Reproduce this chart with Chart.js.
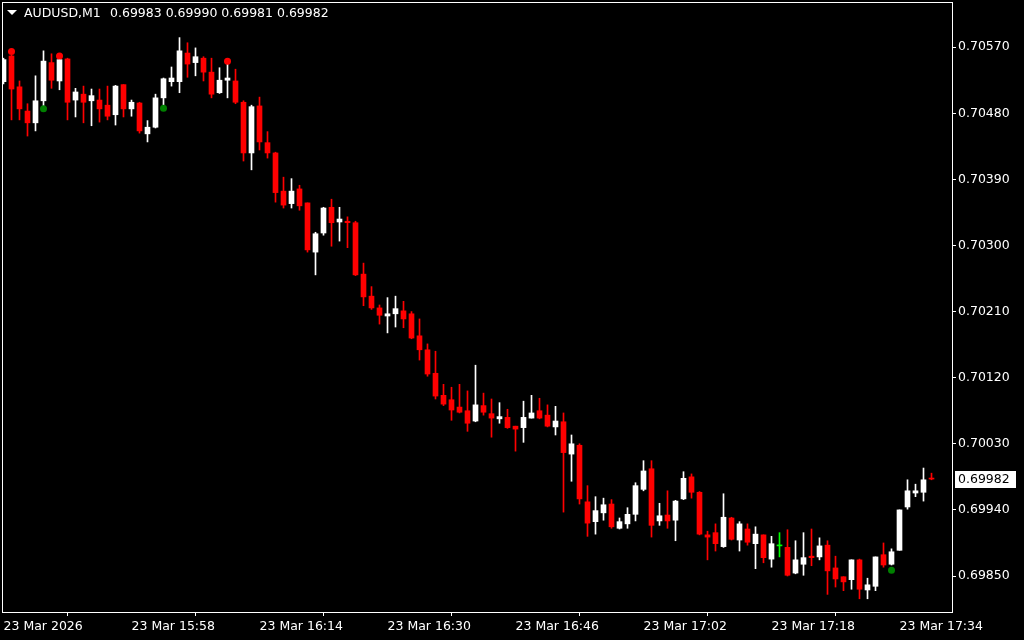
<!DOCTYPE html>
<html>
<head>
<meta charset="utf-8">
<script src="https://cdn.jsdelivr.net/npm/chart.js@4.4.0/dist/chart.umd.min.js"></script>
<style>
html,body{margin:0;padding:0;background:#000;overflow:hidden}
canvas{display:block}
</style>
</head>
<body>
<canvas id="c" width="1024" height="640"></canvas>
<script>
const symbolName = 'AUDUSD,M1';
const timeLabels = ['23 Mar 2026','23 Mar 15:58','23 Mar 16:14','23 Mar 16:30','23 Mar 16:46','23 Mar 17:02','23 Mar 17:18','23 Mar 17:34'];
const timeLabelIdx = [0,16,32,48,64,80,96,112];
const priceTicks = [0.69850,0.69940,0.70030,0.70120,0.70210,0.70300,0.70390,0.70480,0.70570];

const opens = [0.70523,0.70558,0.70516,0.70483,0.70467,0.70497,0.70549,0.70524,0.70554,0.70498,
0.70506,0.70497,0.70498,0.70491,0.70478,0.70519,0.70486,0.70494,0.70452,0.70461,
0.70501,0.70523,0.70523,0.70562,0.70549,0.70555,0.70536,0.70508,0.70525,0.70524,
0.70495,0.70426,0.70490,0.70440,0.70426,0.70374,0.70357,0.70377,0.70358,0.70291,
0.70317,0.70352,0.70332,0.70333,0.70331,0.70261,0.70231,0.70215,0.70204,0.70207,
0.70211,0.70207,0.70177,0.70158,0.70126,0.70096,0.70090,0.70080,0.70075,0.70061,
0.70082,0.70071,0.70064,0.70066,0.70054,0.70052,0.70065,0.70075,0.70069,0.70053,
0.70060,0.70016,0.70028,0.69951,0.69924,0.69936,0.69948,0.69915,0.69921,0.69934,
0.69968,0.69996,0.69925,0.69933,0.69926,0.69955,0.69985,0.69964,0.69906,0.69909,
0.69890,0.69929,0.69899,0.69914,0.69894,0.69906,0.69873,0.69891,0.69889,0.69854,
0.69866,0.69877,0.69876,0.69892,0.69861,0.69849,0.69845,0.69872,0.69831,0.69836,
0.69879,0.69866,0.69885,0.69944,0.69963,0.69964,0.69983];
const highs = [0.70555,0.70559,0.70524,0.70493,0.70531,0.70565,0.70561,0.70555,0.70555,0.70514,
0.70517,0.70513,0.70513,0.70517,0.70518,0.70519,0.70498,0.70495,0.70470,0.70506,
0.70528,0.70543,0.70583,0.70576,0.70569,0.70557,0.70555,0.70542,0.70549,0.70540,
0.70497,0.70491,0.70502,0.70455,0.70427,0.70393,0.70391,0.70382,0.70358,0.70318,
0.70352,0.70363,0.70352,0.70339,0.70333,0.70276,0.70244,0.70219,0.70229,0.70231,
0.70224,0.70210,0.70200,0.70166,0.70156,0.70111,0.70107,0.70111,0.70102,0.70137,
0.70099,0.70091,0.70086,0.70077,0.70054,0.70088,0.70096,0.70092,0.70083,0.70081,
0.70072,0.70042,0.70030,0.69973,0.69958,0.69956,0.69954,0.69929,0.69943,0.69977,
0.70007,0.70007,0.69949,0.69966,0.69953,0.69992,0.69989,0.69965,0.69911,0.69921,
0.69962,0.69930,0.69924,0.69921,0.69917,0.69906,0.69904,0.69909,0.69913,0.69898,
0.69909,0.69914,0.69902,0.69898,0.69877,0.69849,0.69872,0.69873,0.69847,0.69876,
0.69895,0.69887,0.69940,0.69981,0.69975,0.69997,0.69990];
const lows = [0.70520,0.70471,0.70471,0.70449,0.70456,0.70490,0.70514,0.70512,0.70471,0.70475,
0.70467,0.70463,0.70468,0.70471,0.70464,0.70475,0.70476,0.70453,0.70441,0.70460,
0.70491,0.70517,0.70508,0.70529,0.70531,0.70524,0.70501,0.70507,0.70501,0.70493,
0.70415,0.70403,0.70430,0.70419,0.70359,0.70351,0.70351,0.70348,0.70291,0.70260,
0.70314,0.70299,0.70306,0.70297,0.70259,0.70218,0.70213,0.70193,0.70181,0.70189,
0.70188,0.70173,0.70144,0.70122,0.70091,0.70082,0.70062,0.70072,0.70047,0.70060,
0.70069,0.70039,0.70058,0.70051,0.70020,0.70032,0.70065,0.70064,0.70053,0.70042,
0.69937,0.69979,0.69948,0.69904,0.69907,0.69926,0.69915,0.69914,0.69915,0.69925,
0.69966,0.69903,0.69919,0.69915,0.69898,0.69954,0.69956,0.69906,0.69872,0.69884,
0.69889,0.69899,0.69884,0.69892,0.69860,0.69868,0.69862,0.69876,0.69850,0.69853,
0.69851,0.69864,0.69872,0.69825,0.69835,0.69830,0.69832,0.69819,0.69819,0.69830,
0.69862,0.69865,0.69885,0.69941,0.69958,0.69952,0.69981];
const closes = [0.70553,0.70513,0.70486,0.70467,0.70497,0.70551,0.70525,0.70553,0.70495,0.70509,
0.70495,0.70504,0.70486,0.70476,0.70517,0.70486,0.70495,0.70456,0.70461,0.70501,
0.70527,0.70528,0.70565,0.70547,0.70557,0.70536,0.70506,0.70525,0.70528,0.70495,
0.70426,0.70489,0.70441,0.70426,0.70372,0.70355,0.70374,0.70354,0.70294,0.70316,
0.70351,0.70331,0.70336,0.70331,0.70260,0.70230,0.70215,0.70205,0.70207,0.70214,
0.70200,0.70174,0.70158,0.70125,0.70095,0.70084,0.70076,0.70073,0.70058,0.70083,
0.70073,0.70065,0.70067,0.70052,0.70050,0.70066,0.70072,0.70065,0.70054,0.70061,
0.70018,0.70030,0.69955,0.69922,0.69939,0.69947,0.69917,0.69924,0.69934,0.69973,
0.69993,0.69919,0.69932,0.69925,0.69952,0.69983,0.69964,0.69907,0.69903,0.69894,
0.69930,0.69900,0.69921,0.69896,0.69907,0.69875,0.69894,0.69891,0.69851,0.69872,
0.69875,0.69875,0.69891,0.69857,0.69846,0.69842,0.69872,0.69832,0.69838,0.69876,
0.69865,0.69883,0.69940,0.69966,0.69966,0.69981,0.69982];

const upSignalIdx = [1,7,28];
const upSignalPrice = [0.70564,0.70558,0.70551];
const downSignalIdx = [5,20,111];
const downSignalPrice = [0.70486,0.70487,0.69858];

const BULL = '#ffffff', BEAR = '#ff0000', DOJI = '#00ff00';
const candleColors = opens.map((o,i)=> closes[i]>o ? BULL : (closes[i]<o ? BEAR : DOJI));
const idx = opens.map((_,i)=>i);
const FONT = {family:'DejaVu Sans', size:12.5};

const mtPlugin = {
  id:'mt',
  beforeDraw(chart){
    const {ctx,width,height}=chart;
    ctx.save(); ctx.fillStyle='#000'; ctx.fillRect(0,0,width,height); ctx.restore();
  },
  afterDraw(chart){
    const {ctx, chartArea:a, scales} = chart;
    const y = scales.y;
    ctx.save();
    ctx.strokeStyle='#ffffff'; ctx.lineWidth=1;
    ctx.strokeRect(a.left+0.5, a.top+0.5, a.right-a.left, a.bottom-a.top);
    ctx.fillStyle='#ffffff';
    ctx.beginPath(); ctx.moveTo(7,10); ctx.lineTo(17,10); ctx.lineTo(12,15); ctx.closePath(); ctx.fill();
    ctx.font='12.5px "DejaVu Sans"';
    ctx.textBaseline='middle'; ctx.textAlign='left';
    ctx.fillText(symbolName, 24, 14);
    const n = closes.length-1;
    ctx.fillText([opens[n],highs[n],lows[n],closes[n]].map(v=>v.toFixed(5)).join(' '), 110, 14);
    const last = closes[n];
    const yy = Math.round(y.getPixelForValue(last));
    ctx.fillStyle='#ffffff'; ctx.fillRect(a.right+3, yy-8, 61, 17);
    ctx.fillStyle='#000000'; ctx.fillText(last.toFixed(5), a.right+6, yy+1);
    ctx.restore();
  }
};

new Chart(document.getElementById('c'), {
  type:'bar',
  data:{
    datasets:[
      {type:'scatter', label:'up', data: upSignalIdx.map((v,k)=>({x:v,y:upSignalPrice[k]})),
        pointRadius:3.5, pointBackgroundColor:'#ff0000', pointBorderWidth:0, order:-2},
      {type:'scatter', label:'down', data: downSignalIdx.map((v,k)=>({x:v,y:downSignalPrice[k]})),
        pointRadius:3.5, pointBackgroundColor:'#008000', pointBorderWidth:0, order:-1},
      {label:'body', data: idx.map(i=>({x:i, y:[opens[i], closes[i]]})),
        backgroundColor:candleColors, borderWidth:0, barThickness:5, minBarLength:1, grouped:false, order:0},
      {label:'wick', data: idx.map(i=>({x:i, y:[lows[i], highs[i]]})),
        backgroundColor:candleColors, borderWidth:0, barThickness:1, grouped:false, order:1}
    ]
  },
  options:{
    responsive:false, animation:false, devicePixelRatio:1,
    layout:{autoPadding:false, padding:{left:2, top:2, right:0, bottom:0}},
    plugins:{legend:{display:false}, tooltip:{enabled:false}},
    scales:{
      x:{type:'linear', position:'bottom', min:-0.1875, max:118.5625, offset:false, bounds:'data',
        afterBuildTicks:(s)=>{ s.ticks = timeLabelIdx.map(v=>({value:v})); },
        afterFit:(s)=>{ s.height = 28; s.paddingLeft = 0; s.paddingRight = 0; },
        grid:{drawOnChartArea:false, drawTicks:true, tickLength:4, color:'#ffffff', tickColor:'#ffffff'},
        border:{display:false},
        ticks:{autoSkip:false, maxRotation:0, align:'start', padding:3, color:'#ffffff', font:FONT,
          callback:(v)=>{ const k = timeLabelIdx.indexOf(v); return k>=0 ? timeLabels[k] : ''; }}
      },
      y:{type:'linear', position:'right', min:0.69801, max:0.706315, bounds:'data',
        afterBuildTicks:(s)=>{ s.ticks = priceTicks.map(v=>({value:v})); },
        afterFit:(s)=>{ s.width = 72; s.paddingTop = 0; s.paddingBottom = 0; },
        grid:{drawOnChartArea:false, drawTicks:true, tickLength:4, color:'#ffffff', tickColor:'#ffffff'},
        border:{display:false},
        ticks:{padding:2, color:'#ffffff', font:FONT,
          callback:(v)=>Number(v).toFixed(5)}
      }
    }
  },
  plugins:[mtPlugin]
});
</script>
</body>
</html>
